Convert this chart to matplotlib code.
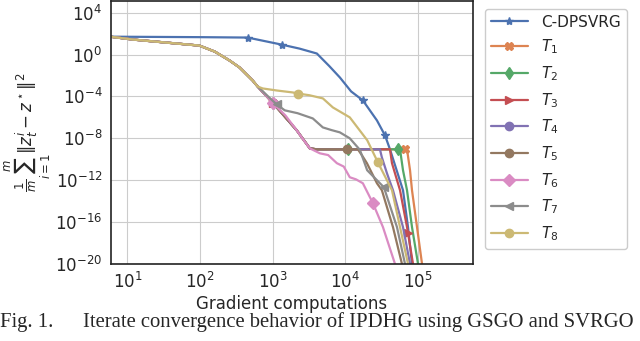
import numpy as np
import matplotlib.pyplot as plt
import seaborn as sns

sns.set_style("whitegrid")
pal = sns.color_palette("deep")

# shared start of all T_k runs (gradient computations, error)
x_start = [5.8, 12, 34, 98, 160, 255, 350, 530, 620]
y_start = [51, 27, 14, 7.2, 1.9, 0.27, 0.058, 3.3e-3, 8.9e-4]

# C-DPSVRG
x_c = [5.8, 98, 452, 1330, 2340, 4050, 6000, 8400, 12000, 17400, 27200, 35100, 41100, 62100, 72800, 82600]
y_c = [51, 46, 42, 8.9, 3.7, 1.26, 0.08, 6.5e-3, 3e-4, 4.2e-5, 5.1e-7, 1.9e-8, 8.9e-10, 1.1e-13, 3.3e-17, 1e-20]
mk_c = [2, 3, 9, 11]

# part of T1..T5 that pink (T6) hides, down to the plateau
x_pre = [1000, 2140, 3240, 4000]
y_pre = [2.5e-5, 5.8e-8, 1.1e-9, 8.9e-10]
plateau = 8.9e-10

x_t1 = [66200, 70500, 77600, 82600, 96800, 113500]
y_t1 = [plateau, plateau, 8.9e-12, 1.1e-13, 3.3e-17, 1e-20]
x_t2 = [10800, 53000, 56500, 62100, 70500, 82600, 100000]
y_t2 = [plateau, plateau, plateau, 8.9e-12, 1.1e-13, 3.3e-17, 1e-20]
x_t3 = [41100, 43800, 56500, 70500, 72800, 85300]
y_t3 = [plateau, 4.2e-11, 1.1e-13, 3.3e-17, 8.9e-18, 1e-20]
x_t4 = [29900, 31800, 37300, 45200, 62100, 77600]
y_t4 = [plateau, 1.5e-10, 4.7e-12, 1.1e-13, 3.3e-17, 1e-20]
x_t5 = [10500, 14860, 16900, 19800, 27200, 31800, 45200, 60100]
y_t5 = [plateau, plateau, 2.4e-10, 4.2e-11, 5.1e-13, 1.1e-13, 3.3e-17, 1e-20]

x_t6 = [1000, 1500, 2140, 2700, 3240, 4450, 5800, 7640, 9500, 11500, 14000, 17400, 23900, 32900, 48200]
y_t6 = [2.5e-5, 1.5e-6, 5.8e-8, 6e-9, 1.1e-9, 3.7e-10, 2.5e-10, 4.2e-11, 2e-11, 1.9e-12, 1.2e-12, 5.1e-13, 6.5e-15, 3.3e-17, 1e-20]
x_t7 = [1135, 1466, 2200, 3565, 4898, 6500, 8395, 11500, 15850, 19950, 33900, 51300, 66200]
y_t7 = [1.7e-5, 4.7e-6, 2.5e-6, 7.9e-7, 1.1e-7, 6e-8, 3.7e-8, 1e-8, 7.9e-10, 8.9e-12, 2.1e-13, 3.3e-17, 1e-20]
x_t8 = [728, 1135, 1890, 2210, 3200, 4900, 6730, 11500, 20000, 28000, 37300, 43800, 56500, 72800]
y_t8 = [5.8e-4, 3.7e-4, 2.4e-4, 1.9e-4, 1.3e-4, 6.5e-5, 8.9e-6, 1e-6, 6.5e-9, 5.1e-11, 1e-12, 1.1e-13, 3.3e-17, 1e-20]

labels = ["C-DPSVRG"] + [r"$T_{%d}$" % k for k in range(1, 9)]
markers = ["*", "X", "d", ">", "o", "o", "D", "<", "o"]

n0 = len(x_start)
n1 = n0 + len(x_pre)
runs = [
    (x_c, y_c, mk_c),
    (x_start + x_pre + x_t1, y_start + y_pre + y_t1, [n0, n1]),
    (x_start + x_pre + x_t2, y_start + y_pre + y_t2, [n0, n1, n1 + 1]),
    (x_start + x_pre + x_t3, y_start + y_pre + y_t3, [n0, n1 + 4]),
    (x_start + x_pre + x_t4, y_start + y_pre + y_t4, [n0]),
    (x_start + x_pre + x_t5, y_start + y_pre + y_t5, [n0, n1]),
    (x_start + x_t6, y_start + y_t6, [n0, n0 + 12]),
    (x_start + x_t7, y_start + y_t7, [n0, n0 + 10]),
    (x_start + x_t8, y_start + y_t8, [n0 + 3, n0 + 9]),
]

fig = plt.figure(figsize=(6.4, 3.41), dpi=100)
ax = fig.add_axes([0.173, 0.226, 0.566, 0.771])

for i, (xs, ys, mk) in enumerate(runs):
    ax.plot(xs, ys, color=pal[i], marker=markers[i], markevery=mk,
            markersize=6, lw=1.6, label=labels[i])

ax.set_xscale("log")
ax.set_yscale("log")
ax.set_xlim(5.9, 5.7e5)
ax.set_ylim(1e-20, 1.3e5)
ax.set_xticks([1e1, 1e2, 1e3, 1e4, 1e5])
ax.set_yticks([1e4, 1e0, 1e-4, 1e-8, 1e-12, 1e-16, 1e-20])
ax.minorticks_off()
ax.tick_params(labelsize=12, length=0, pad=6)
for s in ax.spines.values():
    s.set_color("#222222")
    s.set_linewidth(1.2)

ax.set_xlabel("Gradient computations", fontsize=12, labelpad=2)
ax.set_ylabel(r"$\frac{1}{m}\sum_{i=1}^{m}\|z_t^i - z^\star\|^2$", fontsize=12, labelpad=2)

ax.legend(loc="upper left", bbox_to_anchor=(1.012, 1.0), fontsize=11,
          handlelength=2.4, handletextpad=0.9, labelspacing=0.52,
          borderpad=0.4, framealpha=1)

fig.text(0.0, 0.041, "Fig. 1.", family="Liberation Serif", fontsize=14.9,
         ha="left", va="baseline")
fig.text(83 / 640, 0.041, "Iterate convergence behavior of IPDHG using GSGO and SVRGO",
         family="Liberation Serif", fontsize=14.9, ha="left", va="baseline")

fig.savefig("out.png", dpi=100)
